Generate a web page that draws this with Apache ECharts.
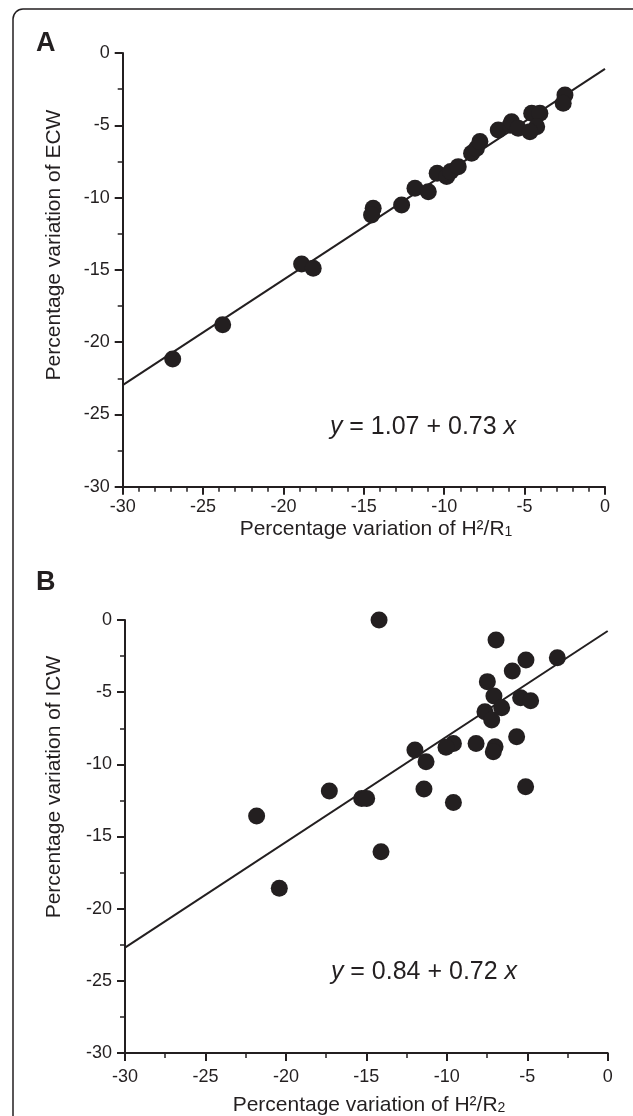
<!DOCTYPE html>
<html>
<head>
<meta charset="utf-8">
<script src="https://cdn.jsdelivr.net/npm/echarts@6/dist/echarts.min.js"></script>
<style>
html,body{margin:0;padding:0;background:#fff;}
#c{width:633px;height:1116px;}
</style>
</head>
<body>
<div id="c"></div>
<script>
// Panel A: percentage variation of H2/R1 (x) vs ECW (y)
const aX = [-26.89,-23.78,-18.87,-18.15,-14.42,-14.52,-12.65,-11.82,-10.99,-10.44,-9.85,-9.60,-9.13,-8.30,-8.00,-7.78,-6.64,-5.90,-5.81,-5.40,-4.56,-4.05,-4.25,-4.67,-2.49,-2.60];
const aY = [-21.16,-18.79,-14.59,-14.89,-10.74,-11.20,-10.51,-9.36,-9.59,-8.32,-8.55,-8.20,-7.86,-6.94,-6.60,-6.13,-5.33,-5.00,-4.75,-5.21,-4.17,-4.17,-5.10,-5.44,-2.90,-3.48];
const aLineX = [-30, 0];
const aLineY = [-22.97, -1.10];

// Panel B: percentage variation of H2/R2 (x) vs ICW (y)
const bX = [-14.21,-6.94,-5.08,-3.13,-5.93,-7.48,-7.07,-5.41,-4.79,-6.59,-7.63,-7.21,-5.66,-8.18,-9.59,-10.05,-7.00,-7.11,-11.98,-11.29,-17.30,-15.29,-14.98,-11.42,-5.10,-9.59,-21.82,-14.09,-20.41];
const bY = [0.00,-1.39,-2.77,-2.61,-3.53,-4.27,-5.27,-5.38,-5.59,-6.08,-6.35,-6.93,-8.09,-8.55,-8.55,-8.82,-8.78,-9.13,-9.01,-9.82,-11.85,-12.36,-12.36,-11.71,-11.55,-12.64,-13.58,-16.06,-18.59];
const bLineX = [-30, 0];
const bLineY = [-22.70, -0.76];

const tickLabels = [-30, -25, -20, -15, -10, -5, 0];

const ink = '#231f20';
const FONT = '"Liberation Sans", Arial, sans-serif';

function pairs(xs, ys){ return xs.map((x,i)=>[x, ys[i]]); }

function xAxisCfg(gi, minorSplit, margin){
  return {
    gridIndex: gi, type:'value', min:-30, max:0, interval:5,
    axisLine:{show:true, onZero:false, lineStyle:{color:ink, width:2}},
    axisTick:{show:true, length:8, lineStyle:{color:ink, width:2}},
    minorTick:{show:true, splitNumber:minorSplit, length:5, lineStyle:{color:ink, width:1.5}},
    splitLine:{show:false},
    axisLabel:{color:ink, fontSize:18, fontFamily:FONT, margin:margin,
      formatter: v => String(tickLabels[tickLabels.indexOf(v)])}
  };
}
function yAxisCfg(gi){
  return {
    gridIndex: gi, type:'value', min:-30, max:0, interval:5,
    axisLine:{show:true, onZero:false, lineStyle:{color:ink, width:2}},
    axisTick:{show:true, length:8, lineStyle:{color:ink, width:2}},
    minorTick:{show:true, splitNumber:2, length:5, lineStyle:{color:ink, width:1.5}},
    splitLine:{show:false},
    axisLabel:{color:ink, fontSize:18, fontFamily:FONT, margin:13,
      formatter: v => String(tickLabels[tickLabels.indexOf(v)])}
  };
}

const chart = echarts.init(document.getElementById('c'), null, {renderer:'canvas'});
const option = {
  backgroundColor:'#fff',
  animation:false,
  grid:[
    {left:122.7, top:53, width:482.3, height:433.7},
    {left:125, top:620, width:482.7, height:433}
  ],
  xAxis:[xAxisCfg(0,5,11), xAxisCfg(1,2,15)],
  yAxis:[yAxisCfg(0), yAxisCfg(1)],
  series:[
    {type:'line', xAxisIndex:0, yAxisIndex:0, data:pairs(aLineX,aLineY), symbol:'none',
      lineStyle:{color:ink, width:2}, z:2},
    {type:'scatter', xAxisIndex:0, yAxisIndex:0, data:pairs(aX,aY), symbolSize:17,
      itemStyle:{color:ink, opacity:1}, z:3},
    {type:'line', xAxisIndex:1, yAxisIndex:1, data:pairs(bLineX,bLineY), symbol:'none',
      lineStyle:{color:ink, width:2}, z:2},
    {type:'scatter', xAxisIndex:1, yAxisIndex:1, data:pairs(bX,bY), symbolSize:17,
      itemStyle:{color:ink, opacity:1}, z:3}
  ],
  graphic:[
    {type:'rect', shape:{x:13, y:9, width:650, height:1130, r:10}, style:{fill:null, stroke:ink, lineWidth:1.5}, silent:true},
    {type:'text', x:36, y:30, style:{text:'A', font:'bold 27px '+FONT, fill:ink}},
    {type:'text', x:36, y:569, style:{text:'B', font:'bold 27px '+FONT, fill:ink}},
    {type:'text', x:54, y:245, rotation:Math.PI/2,
      style:{text:'Percentage variation of ECW', font:'21px '+FONT, fill:ink, align:'center', verticalAlign:'middle'}},
    {type:'text', x:54, y:787, rotation:Math.PI/2,
      style:{text:'Percentage variation of ICW', font:'21px '+FONT, fill:ink, align:'center', verticalAlign:'middle'}},
    {type:'text', x:376, y:529,
      style:{text:'Percentage variation of H²/R{s|1}', font:'21px '+FONT, fill:ink, align:'center', verticalAlign:'middle',
        rich:{s:{fontSize:14, fontFamily:FONT, fill:ink, verticalAlign:'bottom', lineHeight:12, padding:[12,0,0,0]}}}},
    {type:'text', x:369, y:1105,
      style:{text:'Percentage variation of H²/R{s|2}', font:'21px '+FONT, fill:ink, align:'center', verticalAlign:'middle',
        rich:{s:{fontSize:14, fontFamily:FONT, fill:ink, verticalAlign:'bottom', lineHeight:12, padding:[12,0,0,0]}}}},
    {type:'text', x:423, y:427,
      style:{text:'{i|y} = 1.07 + 0.73 {i|x}', font:'25px '+FONT, fill:ink, align:'center', verticalAlign:'middle',
        rich:{i:{fontStyle:'italic', fontSize:25, fontFamily:FONT, fill:ink}}}},
    {type:'text', x:424, y:972,
      style:{text:'{i|y} = 0.84 + 0.72 {i|x}', font:'25px '+FONT, fill:ink, align:'center', verticalAlign:'middle',
        rich:{i:{fontStyle:'italic', fontSize:25, fontFamily:FONT, fill:ink}}}}
  ]
};
chart.setOption(option);
</script>
</body>
</html>
